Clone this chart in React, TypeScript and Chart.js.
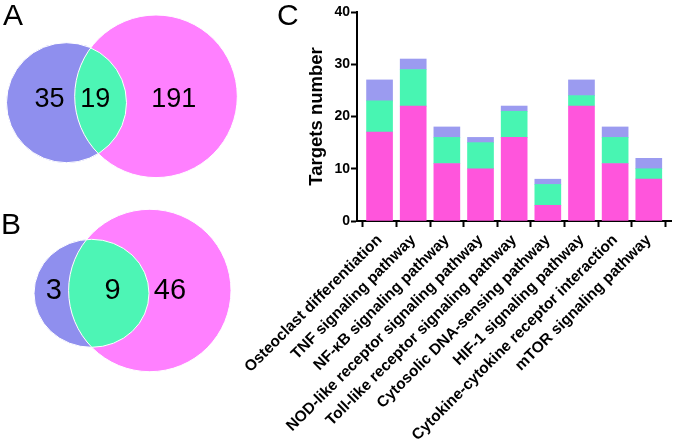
import React, { useEffect, useRef } from 'react';
import { Chart, registerables } from 'chart.js';

Chart.register(...registerables);

// ---------- Data ----------
const categories = [
  'Osteoclast differentiation',
  'TNF signaling pathway',
  'NF-κB signaling pathway',
  'NOD-like receptor signaling pathway',
  'Toll-like receptor signaling pathway',
  'Cytosolic DNA-sensing pathway',
  'HIF-1 signaling pathway',
  'Cytokine-cytokine receptor interaction',
  'mTOR signaling pathway',
];
const magentaTargets = [17, 22, 11, 10, 16, 3, 22, 11, 8];
const greenTargets = [6, 7, 5, 5, 5, 4, 2, 5, 2];
const purpleTargets = [4, 2, 2, 1, 1, 1, 3, 2, 2];
const yTickValues = [0, 10, 20, 30, 40];

const vennACounts = [35, 19, 191];
const vennBCounts = [3, 9, 46];

// ---------- Styles / geometry ----------
const FONT = '"Liberation Sans", Arial, Helvetica, sans-serif';
const BAR_MAGENTA = '#FF55DC';
const BAR_GREEN = '#48F5B2';
const BAR_PURPLE = '#9B9BF0';
const VENN_PURPLE = '#8F8FEE';
const VENN_MAGENTA = '#FF80FF';
const VENN_GREEN = '#4DF5B5';

const VENN_PANELS = [
  {
    counts: vennACounts,
    left: { cx: 66.5, cy: 102.7, rx: 60, ry: 60 },
    right: { cx: 156, cy: 96.3, rx: 81.3, ry: 81.3 },
    labelX: [49.5, 95.2, 173.7],
    labelY: 100,
    fontSize: 27,
  },
  {
    counts: vennBCounts,
    left: { cx: 91.5, cy: 293.3, rx: 57.5, ry: 54 },
    right: { cx: 149.8, cy: 290.5, rx: 81.2, ry: 81.2 },
    labelX: [53.7, 112.5, 170],
    labelY: 291,
    fontSize: 29,
  },
];

const W = 675;
const H = 446;

const vennPlugin = {
  id: 'vennPlugin',
  beforeDatasetsDraw(chart: any) {
    const { ctx } = chart;
    const xs = chart.scales.x;
    const ys = chart.scales.y;
    const toPx = (c: any) => ({
      x: xs.getPixelForValue(c.cx),
      y: ys.getPixelForValue(c.cy),
      rx: Math.abs(xs.getPixelForValue(c.cx + c.rx) - xs.getPixelForValue(c.cx)),
      ry: Math.abs(ys.getPixelForValue(c.cy + c.ry) - ys.getPixelForValue(c.cy)),
    });
    const path = (e: any) => {
      ctx.beginPath();
      ctx.ellipse(e.x, e.y, e.rx, e.ry, 0, 0, Math.PI * 2);
    };
    VENN_PANELS.forEach((p) => {
      const L = toPx(p.left);
      const R = toPx(p.right);
      ctx.save();
      path(L);
      ctx.fillStyle = VENN_PURPLE;
      ctx.fill();
      path(R);
      ctx.fillStyle = VENN_MAGENTA;
      ctx.fill();
      ctx.save();
      path(L);
      ctx.clip();
      path(R);
      ctx.fillStyle = VENN_GREEN;
      ctx.fill();
      ctx.restore();
      ctx.lineWidth = 1;
      ctx.strokeStyle = '#ffffff';
      path(L);
      ctx.stroke();
      path(R);
      ctx.stroke();
      ctx.restore();
    });
  },
  afterDatasetsDraw(chart: any) {
    const { ctx } = chart;
    VENN_PANELS.forEach((p, di) => {
      const meta = chart.getDatasetMeta(di);
      ctx.save();
      ctx.fillStyle = '#000';
      ctx.textAlign = 'center';
      ctx.textBaseline = 'middle';
      ctx.font = `${p.fontSize}px ${FONT}`;
      meta.data.forEach((pt: any, i: number) => {
        ctx.fillText(String(p.counts[i]), pt.x, pt.y);
      });
      ctx.restore();
    });
  },
};

export default function App() {
  const barRef = useRef<HTMLCanvasElement>(null);
  const vennRef = useRef<HTMLCanvasElement>(null);

  useEffect(() => {
    const mk = (label: string, values: number[], color: string) => ({
      label,
      data: values.map((v, i) => ({ x: i, y: v })),
      backgroundColor: color,
      borderWidth: 0,
      barThickness: 26,
    });
    const bar = new Chart(barRef.current as HTMLCanvasElement, {
      type: 'bar',
      data: {
        datasets: [
          mk('Group 1', magentaTargets, BAR_MAGENTA),
          mk('Group 2', greenTargets, BAR_GREEN),
          mk('Group 3', purpleTargets, BAR_PURPLE),
        ],
      },
      options: {
        responsive: false,
        animation: false,
        devicePixelRatio: 1,
        layout: { padding: { left: 300, top: 12, right: 4, bottom: 0 } },
        plugins: { legend: { display: false }, tooltip: { enabled: false } },
        scales: {
          x: {
            type: 'linear',
            stacked: true,
            offset: false,
            min: -0.67,
            max: 8.66,
            afterFit: (s: any) => {
              s.height = 225;
            },
            border: { display: true, color: '#000', width: 2 },
            grid: {
              drawOnChartArea: false,
              drawTicks: true,
              tickLength: 6,
              tickWidth: 2,
              tickColor: '#000',
              color: '#000',
            },
            ticks: {
              stepSize: 1,
              includeBounds: false,
              autoSkip: false,
              minRotation: 45,
              maxRotation: 45,
              padding: 4,
              color: '#000',
              font: { family: FONT, size: 15.5, weight: 'bold' },
              callback: (v: any) => (Number.isInteger(v) && categories[v] !== undefined ? categories[v] : ''),
            },
          },
          y: {
            stacked: true,
            min: 0,
            max: 40,
            afterFit: (s: any) => {
              s.width = 57;
            },
            afterBuildTicks: (s: any) => {
              s.ticks = yTickValues.map((v) => ({ value: v }));
            },
            border: { display: true, color: '#000', width: 2 },
            grid: {
              drawOnChartArea: false,
              drawTicks: true,
              tickLength: 6,
              tickWidth: 2,
              tickColor: '#000',
              color: '#000',
            },
            title: {
              display: true,
              text: 'Targets number',
              color: '#000',
              font: { family: FONT, size: 18.5, weight: 'bold' },
              padding: { top: 5.5, bottom: 0 },
            },
            ticks: {
              padding: 1,
              color: '#000',
              font: { family: FONT, size: 14, weight: 'bold' },
            },
          },
        },
      },
    } as any);

    const venn = new Chart(vennRef.current as HTMLCanvasElement, {
      type: 'scatter',
      data: {
        datasets: VENN_PANELS.map((p, k) => ({
          label: k === 0 ? 'A' : 'B',
          data: p.labelX.map((x) => ({ x, y: p.labelY })),
          pointRadius: 0,
        })),
      },
      options: {
        responsive: false,
        animation: false,
        devicePixelRatio: 1,
        layout: { padding: 0 },
        plugins: { legend: { display: false }, tooltip: { enabled: false } },
        scales: {
          x: { type: 'linear', display: false, min: 0, max: 245 },
          y: { type: 'linear', display: false, min: 0, max: H, reverse: true },
        },
      },
      plugins: [vennPlugin],
    } as any);

    return () => {
      bar.destroy();
      venn.destroy();
    };
  }, []);

  const letter = (t: string, left: number, top: number) => (
    <div
      style={{
        position: 'absolute',
        left,
        top,
        fontFamily: FONT,
        fontSize: 30,
        lineHeight: '30px',
        color: '#000',
        zIndex: 3,
      }}
    >
      {t}
    </div>
  );

  return (
    <div
      style={{
        position: 'fixed',
        left: 0,
        top: 0,
        width: W,
        height: H,
        background: '#fff',
        overflow: 'hidden',
      }}
    >
      <canvas
        ref={barRef}
        width={W}
        height={H}
        style={{ position: 'absolute', left: 0, top: 0, width: W, height: H, zIndex: 1 }}
      />
      <canvas
        ref={vennRef}
        width={245}
        height={H}
        style={{ position: 'absolute', left: 0, top: 0, width: 245, height: H, zIndex: 2 }}
      />
      {letter('A', 3, 0)}
      {letter('B', 1, 209)}
      {letter('C', 277, 0)}
    </div>
  );
}
